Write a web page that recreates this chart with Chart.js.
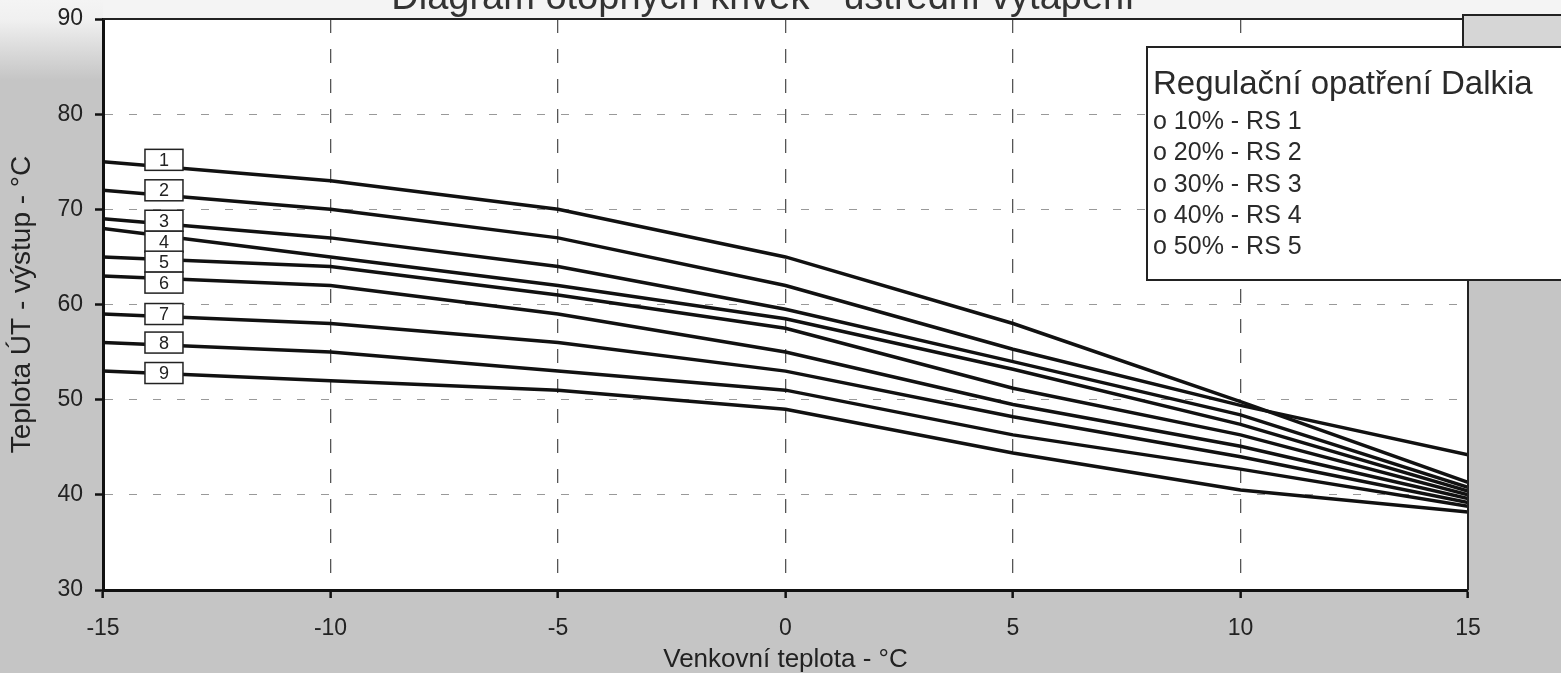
<!DOCTYPE html>
<html>
<head>
<meta charset="utf-8">
<script src="https://cdn.jsdelivr.net/npm/chart.js@4"></script>
<style>
  html, body { margin: 0; padding: 0; background: #c3c3c3; }
</style>
</head>
<body>
<canvas id="curvesChart" width="1561" height="673"></canvas>
<script>
// outdoor temperature (x) and supply temperature of the 9 curves (y)
const outdoorTemps = [-15, -10, -5, 0, 5, 10, 15];
const rs1 = [75, 73, 70, 65, 58, 49.8, 41.3];
const rs2 = [72, 70, 67, 62, 55.3, 49.4, 44.2];
const rs3 = [69, 67, 64, 59.5, 54, 48.4, 40.8];
const rs4 = [68, 65, 62, 58.5, 53.2, 47.4, 40.4];
const rs5 = [65, 64, 61, 57.5, 51.2, 46.3, 40];
const rs6 = [63, 62, 59, 55, 49.5, 45.1, 39.6];
const rs7 = [59, 58, 56, 53, 48.2, 44, 39.2];
const rs8 = [56, 55, 53, 51, 46.3, 42.7, 38.8];
const rs9 = [53, 52, 51, 49, 44.4, 40.5, 38.2];
const curveNames = ["1", "2", "3", "4", "5", "6", "7", "8", "9"];
const labelLevels = [75.2, 72, 68.8, 66.6, 64.5, 62.3, 59, 56, 52.8];
const labelTemp = -13.66;
const legendTitle = "Regulační opatření Dalkia";
const legendItems = ["o 10% - RS 1", "o 20% - RS 2", "o 30% - RS 3", "o 40% - RS 4", "o 50% - RS 5"];

const allCurves = [rs1, rs2, rs3, rs4, rs5, rs6, rs7, rs8, rs9];
const FONT = '"Liberation Sans", Arial, sans-serif';

const paperPlugin = {
  id: "paper",
  beforeDraw(chart) {
    const { ctx, width, height, chartArea: a } = chart;
    ctx.save();
    ctx.fillStyle = "#c5c5c5";
    ctx.fillRect(0, 0, width, height);
    const g = ctx.createLinearGradient(0, 0, 0, 80);
    g.addColorStop(0, "#f4f4f4");
    g.addColorStop(0.25, "#f0f0f0");
    g.addColorStop(1, "#c5c5c5");
    ctx.fillStyle = g;
    ctx.fillRect(0, 0, a.left, 80);
    ctx.fillStyle = "#f4f4f4";
    ctx.fillRect(a.left, 0, width - a.left, a.top);
    ctx.fillStyle = "#ffffff";
    ctx.fillRect(a.left, a.top, a.right - a.left, a.bottom - a.top);
    ctx.restore();
  },
  afterDatasetsDraw(chart) {
    const { ctx, scales: { x, y } } = chart;
    const cx = x.getPixelForValue(labelTemp);
    ctx.save();
    ctx.font = "18px " + FONT;
    ctx.textAlign = "center";
    ctx.textBaseline = "middle";
    labelLevels.forEach((lv, i) => {
      const cy = y.getPixelForValue(lv);
      ctx.fillStyle = "#fff";
      ctx.fillRect(cx - 19, cy - 10.5, 38, 21);
      ctx.strokeStyle = "#222";
      ctx.lineWidth = 1.5;
      ctx.strokeRect(cx - 19, cy - 10.5, 38, 21);
      ctx.fillStyle = "#222";
      ctx.fillText(curveNames[i], cx, cy + 1);
    });
    ctx.restore();
  },
  afterDraw(chart) {
    const { ctx, chartArea: a, width } = chart;
    ctx.save();
    // frame top and right
    ctx.strokeStyle = "#222";
    ctx.lineWidth = 2;
    ctx.beginPath();
    ctx.moveTo(a.left, a.top);
    ctx.lineTo(a.right, a.top);
    ctx.moveTo(a.right, a.top);
    ctx.lineTo(a.right, a.bottom);
    ctx.stroke();
    // small box top right
    ctx.fillStyle = "#d6d6d6";
    ctx.fillRect(a.right - 5, 15, width - a.right + 10, 32);
    ctx.strokeRect(a.right - 5, 15, width - a.right + 10, 32);
    // legend text box
    ctx.fillStyle = "#fff";
    ctx.fillRect(1147, 47, 430, 233);
    ctx.strokeStyle = "#222";
    ctx.lineWidth = 2;
    ctx.strokeRect(1147, 47, 430, 233);
    ctx.fillStyle = "#2a2a2a";
    ctx.textAlign = "left";
    ctx.textBaseline = "alphabetic";
    ctx.font = "33px " + FONT;
    ctx.fillText(legendTitle, 1153, 94);
    ctx.font = "25px " + FONT;
    legendItems.forEach((t, i) => ctx.fillText(t, 1153, 129 + i * 31.3));
    // title (cut at the top edge like the scan)
    ctx.font = "38px " + FONT;
    ctx.textAlign = "center";
    ctx.fillStyle = "#333";
    ctx.fillText("Diagram otopných křivek - ústřední vytápění", 763, 9);
    ctx.restore();
  }
};

new Chart(document.getElementById("curvesChart").getContext("2d"), {
  type: "line",
  data: {
    datasets: allCurves.map((vals, i) => ({
      label: "RS " + curveNames[i],
      data: outdoorTemps.map((t, j) => ({ x: t, y: vals[j] })),
      borderColor: "#111",
      borderWidth: 3.5,
      pointRadius: 0,
      tension: 0,
      fill: false
    }))
  },
  options: {
    responsive: false,
    animation: false,
    layout: { padding: { top: 19, right: 93, left: 0, bottom: 0 } },
    plugins: { legend: { display: false }, tooltip: { enabled: false } },
    scales: {
      x: {
        type: "linear",
        min: -15,
        max: 15,
        ticks: { stepSize: 5, color: "#222", font: { size: 23, family: FONT }, padding: 17 },
        grid: { color: "#555", lineWidth: 1.3, tickLength: 8, tickColor: "#111", tickWidth: 2.5 },
        border: { color: "#111", width: 3, dash: [14, 16] },
        title: { display: true, text: "Venkovní teplota - °C", color: "#222", font: { size: 26, family: FONT, lineHeight: 1 }, padding: { top: 0, bottom: 0 } },
        afterFit: s => { s.height = 83; s.paddingLeft = 0; s.paddingRight = 0; }
      },
      y: {
        min: 30,
        max: 90,
        ticks: { stepSize: 10, color: "#222", font: { size: 23, family: FONT }, padding: 12 },
        grid: { color: "#999", lineWidth: 1, tickLength: 8, tickColor: "#111", tickWidth: 2.5 },
        border: { color: "#111", width: 3, dash: [8, 16] },
        title: { display: true, text: "Teplota ÚT - výstup - °C", color: "#222", font: { size: 28, family: FONT, lineHeight: 1 }, padding: { top: 8, bottom: 0 } },
        afterFit: s => { s.width = 103; s.paddingTop = 0; s.paddingBottom = 0; }
      }
    }
  },
  plugins: [paperPlugin]
});
</script>
</body>
</html>
